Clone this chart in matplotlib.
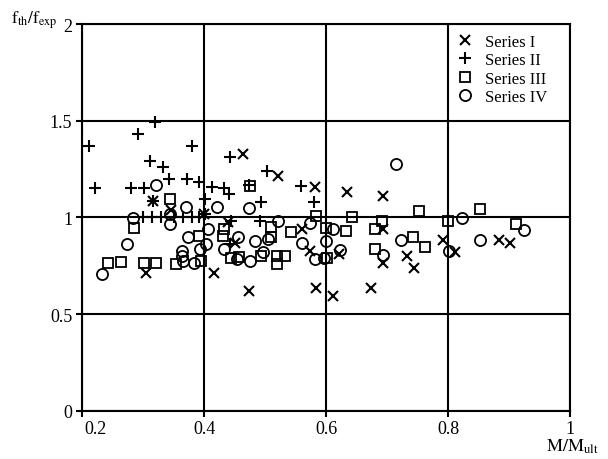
import matplotlib
matplotlib.use("Agg")
import matplotlib.pyplot as plt
import matplotlib.transforms as mtransforms

plt.rcParams['font.family'] = ['Liberation Serif', 'DejaVu Serif']
plt.rcParams['mathtext.fontset'] = 'stix'

# Series I (x markers)
s1_x = [0.305, 0.316, 0.345, 0.400, 0.416, 0.440, 0.450, 0.464, 0.473, 0.522, 0.560, 0.574, 0.582, 0.583,
        0.611, 0.621, 0.634, 0.673, 0.694, 0.694, 0.694, 0.732, 0.744, 0.791, 0.811, 0.883, 0.901]
s1_y = [0.713, 1.084, 1.040, 1.020, 0.710, 0.975, 0.870, 1.328, 0.618, 1.215, 0.939, 0.828, 1.157, 0.635,
        0.595, 0.812, 1.132, 0.636, 1.113, 0.940, 0.766, 0.801, 0.737, 0.884, 0.822, 0.884, 0.867]

# Series II (+ markers)
s2_x = [0.211, 0.222, 0.281, 0.292, 0.301, 0.311, 0.320, 0.332, 0.342, 0.372, 0.381, 0.391, 0.401, 0.413,
        0.432, 0.441, 0.443, 0.473, 0.493, 0.503, 0.559, 0.581, 0.316, 0.402, 0.300, 0.315, 0.330, 0.350,
        0.365, 0.380, 0.392, 0.444, 0.443, 0.492]
s2_y = [1.367, 1.150, 1.153, 1.430, 1.153, 1.293, 1.495, 1.259, 1.200, 1.198, 1.367, 1.184, 1.097, 1.155,
        1.152, 1.120, 1.312, 1.166, 1.077, 1.238, 1.160, 1.077, 1.084, 1.020, 1.000, 1.000, 1.000, 1.000,
        1.000, 1.000, 1.000, 0.980, 0.860, 0.980]

# Series III (square markers)
s3_x = [0.243, 0.264, 0.285, 0.302, 0.322, 0.344, 0.354, 0.392, 0.395, 0.431, 0.433, 0.444, 0.458, 0.476,
        0.493, 0.510, 0.510, 0.519, 0.520, 0.532, 0.542, 0.584, 0.600, 0.601, 0.633, 0.643, 0.681, 0.681,
        0.692, 0.743, 0.752, 0.762, 0.800, 0.852, 0.912]
s3_y = [0.764, 0.768, 0.947, 0.762, 0.762, 1.093, 0.760, 0.903, 0.773, 0.905, 0.940, 0.792, 0.795, 1.164,
        0.798, 0.950, 0.900, 0.800, 0.760, 0.802, 0.922, 1.007, 0.947, 0.792, 0.928, 1.000, 0.940, 0.835,
        0.979, 0.900, 1.033, 0.848, 0.980, 1.042, 0.966]

# Series IV (circle markers)
s4_x = [0.232, 0.274, 0.284, 0.322, 0.344, 0.344, 0.364, 0.364, 0.365, 0.370, 0.374, 0.383, 0.394, 0.404,
        0.406, 0.422, 0.433, 0.455, 0.454, 0.474, 0.475, 0.483, 0.497, 0.505, 0.522, 0.560, 0.574, 0.582,
        0.596, 0.600, 0.612, 0.623, 0.694, 0.714, 0.723, 0.801, 0.823, 0.853, 0.925]
s4_y = [0.706, 0.861, 0.997, 1.168, 0.965, 1.020, 0.828, 0.800, 0.775, 1.052, 0.901, 0.766, 0.836, 0.862,
        0.940, 1.055, 0.836, 0.900, 0.786, 1.050, 0.774, 0.880, 0.820, 0.886, 0.983, 0.866, 0.970, 0.783,
        0.790, 0.878, 0.941, 0.832, 0.804, 1.278, 0.883, 0.825, 0.995, 0.884, 0.936]

x_ticks = [0.2, 0.4, 0.6, 0.8, 1.0]
x_tick_labels = ["0.2", "0.4", "0.6", "0.8", "1"]
y_ticks = [0, 0.5, 1, 1.5, 2]
y_tick_labels = ["0", "0.5", "1", "1.5", "2"]

fig = plt.figure(figsize=(6.08, 4.60), dpi=100)
ax = fig.add_axes([0.135, 0.105, 0.8025, 0.8405])

ax.plot(s1_x, s1_y, linestyle='none', marker='x', markersize=7, markeredgewidth=1.5,
        color='black', label='Series I')
ax.plot(s2_x, s2_y, linestyle='none', marker='+', markersize=8, markeredgewidth=1.5,
        color='black', label='Series II')
ax.plot(s3_x, s3_y, linestyle='none', marker='s', markersize=6.5, markeredgewidth=1.3,
        markerfacecolor='none', color='black', label='Series III')
ax.plot(s4_x, s4_y, linestyle='none', marker='o', markersize=8, markeredgewidth=1.3,
        markerfacecolor='none', color='black', label='Series IV')

ax.set_xlim(0.2, 1.0)
ax.set_ylim(0, 2)
ax.set_xticks(x_ticks)
ax.set_xticklabels(x_tick_labels)
ax.set_yticks(y_ticks)
ax.set_yticklabels(y_tick_labels)
ax.grid(True, color='black', linewidth=1.5)
ax.set_axisbelow(True)
for sp in ax.spines.values():
    sp.set_linewidth(1.5)
    sp.set_color('black')
ax.tick_params(direction='out', length=4, width=1.5, labelsize=13, pad=3)

# shift first x label to the right, as in the reference
lbl0 = ax.get_xticklabels()[0]
lbl0.set_transform(lbl0.get_transform() + mtransforms.ScaledTranslation(10/72, 0, fig.dpi_scale_trans))

leg = ax.legend(loc='upper right', frameon=False, fontsize=12, handletextpad=0.6,
                borderaxespad=0.4, labelspacing=0.15, handlelength=1.2,
                bbox_to_anchor=(0.98, 1.01))

fig.text(0.018, 0.957, r'$\mathrm{f_{th}/f_{exp}}$', fontsize=12.5, ha='left', va='center')
fig.text(0.985, 0.028, r'$\mathrm{M/M_{ult}}$', fontsize=13, ha='right', va='center')

fig.savefig('out.png', dpi=100)
